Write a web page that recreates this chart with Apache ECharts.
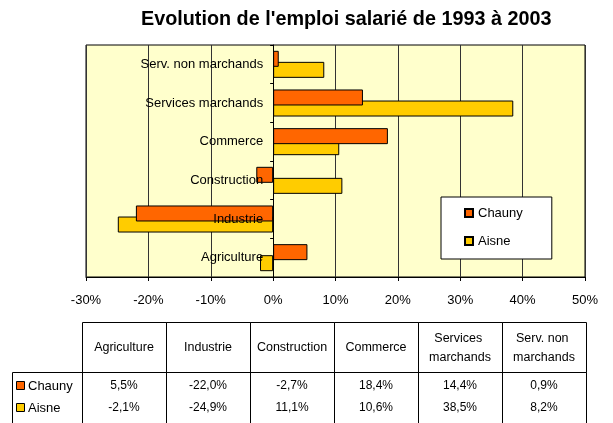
<!DOCTYPE html>
<html><head><meta charset="utf-8">
<script src="https://cdn.jsdelivr.net/npm/echarts@6/dist/echarts.min.js"></script>
<style>html,body{margin:0;padding:0;background:#fff}#c{width:613px;height:423px}</style>
</head><body><div id="c"></div>
<script>
const categories = ['Agriculture','Industrie','Construction','Commerce','Services marchands','Serv. non marchands'];
const chauny = [5.5, -22.0, -2.7, 18.4, 14.4, 0.9];
const aisne = [-2.1, -24.9, 11.1, 10.6, 38.5, 8.2];
const seriesNames = ['Chauny', 'Aisne'];
const seriesColors = ['#FF6600', '#FFCC00'];
const xMin = -30, xMax = 50, xStep = 10;
const titleText = "Evolution de l'emploi salarié de 1993 à 2003";

const FONT = "'Liberation Sans', Arial, sans-serif";
const fmt = v => v.toFixed(1).replace('.', ',') + '%';
const GRID = {left: 86, right: 28, top: 45, bottom: 146};

// table layout
const T = {left: 12, keyW: 70, colW: 84, top: 322, headH: 50, rowY: [386, 408], bottom: 80};
const x0 = T.left + T.keyW;
const g = [];
categories.forEach((c, i) => {
  const x = x0 + i * T.colW;
  g.push({type: 'rect', shape: {x: x + 0.5, y: T.top + 0.5, width: T.colW, height: T.headH},
    style: {fill: 'none', stroke: '#000', lineWidth: 1}});
  g.push({type: 'rect', shape: {x: x + 0.5, y: T.top + T.headH + 0.5, width: T.colW, height: T.bottom},
    style: {fill: 'none', stroke: '#000', lineWidth: 1}});
  g.push({type: 'text', style: {text: c, x: x + T.colW / 2, y: T.top + T.headH / 2 + 1, align: 'center', verticalAlign: 'middle',
    width: 80, overflow: 'break', lineHeight: 19, font: '12.5px ' + FONT, fill: '#000'}});
  [chauny, aisne].forEach((arr, k) => {
    g.push({type: 'text', style: {text: fmt(arr[i]), x: x + T.colW / 2, y: T.rowY[k], align: 'center', verticalAlign: 'middle',
      font: '12px ' + FONT, fill: '#000'}});
  });
});
g.push({type: 'rect', shape: {x: T.left + 0.5, y: T.top + T.headH + 0.5, width: T.keyW, height: T.bottom},
  style: {fill: 'none', stroke: '#000', lineWidth: 1}});
seriesNames.forEach((n, k) => {
  g.push({type: 'rect', shape: {x: T.left + 4.5, y: T.rowY[k] - 4.5, width: 8, height: 8},
    style: {fill: seriesColors[k], stroke: '#000', lineWidth: 1}});
  g.push({type: 'text', style: {text: n, x: T.left + 16, y: T.rowY[k], align: 'left', verticalAlign: 'middle',
    font: '13px ' + FONT, fill: '#000'}});
});

const chart = echarts.init(document.getElementById('c'), null, {renderer: 'canvas'});
chart.setOption({
  animation: false,
  backgroundColor: '#fff',
  title: {text: titleText, left: 141, top: 10, padding: 0,
    textStyle: {fontFamily: FONT, fontSize: 19.8, fontWeight: 'bold', color: '#000'}},
  grid: Object.assign({show: true, backgroundColor: '#FFFFCC', borderColor: '#000', borderWidth: 1,
    containLabel: false, outerBoundsMode: 'none'}, GRID),
  legend: {data: seriesNames, orient: 'vertical', left: 441, top: 197,
    backgroundColor: '#fff', borderColor: '#000', borderWidth: 1, borderRadius: 0,
    padding: [8, 29, 10, 23], itemGap: 12, itemWidth: 8, itemHeight: 8, icon: 'rect',
    textStyle: {fontFamily: FONT, fontSize: 13, color: '#000', lineHeight: 16}},
  xAxis: {type: 'value', min: xMin, max: xMax, interval: xStep,
    axisLine: {show: true, onZero: false, lineStyle: {color: '#000'}},
    axisTick: {show: true, length: 4, lineStyle: {color: '#000'}},
    axisLabel: {formatter: '{value}%', margin: 17, fontFamily: FONT, fontSize: 13, color: '#000'},
    splitLine: {show: true, lineStyle: {color: '#333', width: 1}}},
  yAxis: {type: 'category', data: categories, z: 4, offset: 0,
    axisLine: {show: true, onZero: false, lineStyle: {color: '#000'}},
    axisTick: {show: true, length: 3, lineStyle: {color: '#000'}},
    axisLabel: {margin: 10, fontFamily: FONT, fontSize: 13, color: '#000'},
    splitLine: {show: false}},
  series: [
    {name: seriesNames[0], type: 'bar', data: chauny, barWidth: 16, barGap: '-31%', z: 3,
      itemStyle: {color: seriesColors[0], borderColor: '#000', borderWidth: 1}},
    {name: seriesNames[1], type: 'bar', data: aisne, barWidth: 16, barGap: '-31%', z: 2,
      itemStyle: {color: seriesColors[1], borderColor: '#000', borderWidth: 1}}
  ],
  graphic: g
});
// place the category axis on the value axis' zero, using the chart's own scale
const zeroPx = chart.convertToPixel({xAxisIndex: 0}, 0);
chart.setOption({yAxis: {offset: -(zeroPx - GRID.left)}});
</script></body></html>
